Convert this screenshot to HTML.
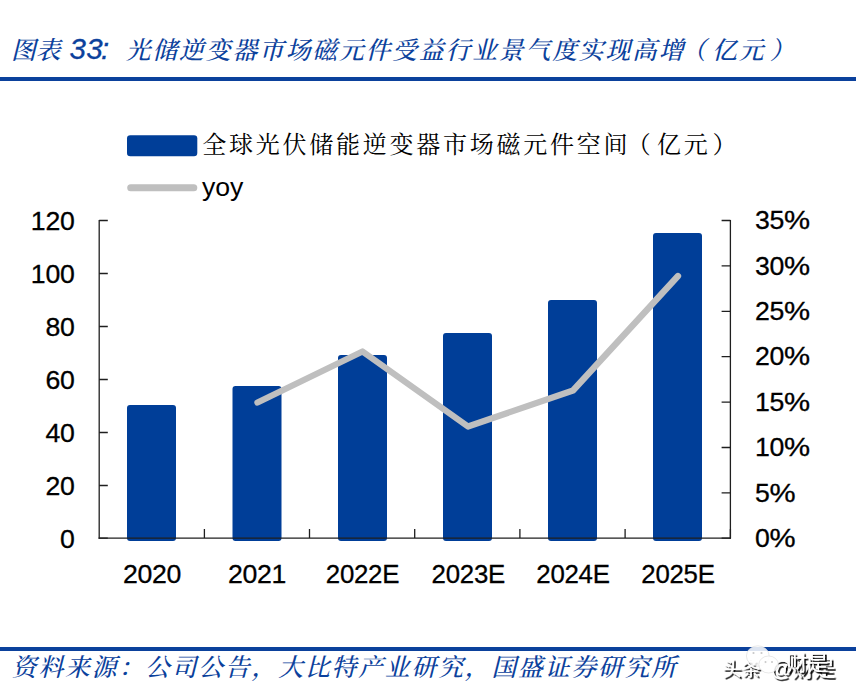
<!DOCTYPE html>
<html lang="zh-CN">
<head>
<meta charset="utf-8">
<title>图表 33</title>
<style>
html,body{margin:0;padding:0;background:#fff;}
body{width:856px;height:700px;overflow:hidden;position:relative;}
svg{position:absolute;left:0;top:0;display:block;}
.kai{font-family:"Liberation Serif","Noto Serif CJK SC",serif;font-size:24.8px;letter-spacing:1.85px;font-weight:500;}
.leg{font-size:24px;letter-spacing:2.75px;font-weight:400;}
.num{font-family:"Liberation Sans","Noto Sans CJK SC",sans-serif;font-size:26.67px;letter-spacing:-0.27px;}
.ttl{fill:#0b419c;font-style:italic;}
.wm{font-family:"Liberation Sans","Noto Sans CJK SC",sans-serif;font-weight:400;font-size:20px;}
</style>
</head>
<body>
<svg width="856" height="700" viewBox="0 0 856 700">
  <rect width="856" height="700" fill="#ffffff"/>
  <!-- title -->
  <text class="kai ttl" x="11" y="59.2" style="letter-spacing:0px">图表</text>
  <text class="num ttl" x="69.5" y="59.3" style="font-size:29.5px;letter-spacing:0.3px" stroke="#0b419c" stroke-width=".3">33<tspan dx="-2">:</tspan></text>
  <text class="kai ttl" x="125.8" y="59.2">光储逆变器市场磁元件受益行业景气度实现高增<tspan dx="-4.5">（</tspan><tspan dx="4.5">亿元</tspan><tspan dx="4.5">）</tspan></text>
  <rect x="0" y="77" width="856" height="4" fill="#0b419c"/>

  <!-- legend -->
  <rect x="127" y="135.3" width="70.3" height="21" rx="3.3" fill="#003e98"/>
  <text class="kai leg" x="202.3" y="153.3" fill="#000">全球光伏储能逆变器市场磁元件空间<tspan dx="-3.5">（</tspan><tspan dx="3.5">亿元</tspan><tspan dx="2">）</tspan></text>
  <line x1="130.7" y1="187.8" x2="193.8" y2="187.8" stroke="#bfbfbf" stroke-width="7" stroke-linecap="round"/>
  <text class="num" x="202" y="196.2" fill="#000" style="letter-spacing:-0.1px">yoy</text>

  <!-- bars -->
  <g fill="#003e98">
    <rect x="127" y="405" width="49" height="136" rx="3"/>
    <rect x="232.5" y="386" width="49" height="155" rx="3"/>
    <rect x="338" y="355" width="49" height="186" rx="3"/>
    <rect x="443" y="333" width="49" height="208" rx="3"/>
    <rect x="548" y="300" width="49" height="241" rx="3"/>
    <rect x="653" y="233" width="49" height="308" rx="3"/>
  </g>

  <!-- axes -->
  <g stroke="#1f1f1f" stroke-width="1.3" fill="none">
    <path d="M99.2 220V538.8"/>
    <path d="M99.2 220.5h8.6M99.2 273.5h8.6M99.2 326.5h8.6M99.2 379.5h8.6M99.2 432.5h8.6M99.2 485.5h8.6M99.2 538.2h8.6"/>
    <path d="M98.5 538.2H731"/>
    <path d="M204.4 538v-9M309.5 538v-9M414.7 538v-9M519.9 538v-9M625.1 538v-9M730.4 538v-9"/>
    <path d="M730.4 220V538.8"/>
    <path d="M730.4 220.5h-8.8M730.4 265.9h-8.8M730.4 311.3h-8.8M730.4 356.7h-8.8M730.4 402.1h-8.8M730.4 447.5h-8.8M730.4 492.9h-8.8M730.4 538.2h-8.8"/>
  </g>

  <!-- yoy line -->
  <polyline points="257.5,402.5 362.5,351.5 468,426.5 573,390.5 678,276" fill="none" stroke="#bfbfbf" stroke-width="6.3" stroke-linecap="round" stroke-linejoin="round"/>

  <!-- left labels -->
  <g class="num" fill="#000" stroke="#000" stroke-width=".3" text-anchor="end">
    <text x="74.5" y="229.8">120</text>
    <text x="74.5" y="282.8">100</text>
    <text x="74.5" y="335.8">80</text>
    <text x="74.5" y="388.8">60</text>
    <text x="74.5" y="441.8">40</text>
    <text x="74.5" y="494.8">20</text>
    <text x="74.5" y="547.8">0</text>
  </g>
  <!-- right labels -->
  <g class="num" fill="#000" stroke="#000" stroke-width=".3">
    <text x="755" y="229.1">35</text><text transform="translate(784.1 229.1) scale(1.1 1)">%</text>
    <text x="755" y="274.5">30</text><text transform="translate(784.1 274.5) scale(1.1 1)">%</text>
    <text x="755" y="319.9">25</text><text transform="translate(784.1 319.9) scale(1.1 1)">%</text>
    <text x="755" y="365.3">20</text><text transform="translate(784.1 365.3) scale(1.1 1)">%</text>
    <text x="755" y="410.7">15</text><text transform="translate(784.1 410.7) scale(1.1 1)">%</text>
    <text x="755" y="456.1">10</text><text transform="translate(784.1 456.1) scale(1.1 1)">%</text>
    <text x="755" y="501.5">5</text><text transform="translate(769.6 501.5) scale(1.1 1)">%</text>
    <text x="755" y="546.8">0</text><text transform="translate(769.6 546.8) scale(1.1 1)">%</text>
  </g>
  <!-- x labels -->
  <g class="num" fill="#000" stroke="#000" stroke-width=".3" text-anchor="middle">
    <text x="152" y="583">2020</text>
    <text x="257" y="583">2021</text>
    <text x="362.5" y="583" textLength="73.4" lengthAdjust="spacingAndGlyphs">2022E</text>
    <text x="468.3" y="583" textLength="73.4" lengthAdjust="spacingAndGlyphs">2023E</text>
    <text x="573" y="583" textLength="73.4" lengthAdjust="spacingAndGlyphs">2024E</text>
    <text x="678" y="583" textLength="73.4" lengthAdjust="spacingAndGlyphs">2025E</text>
  </g>

  <!-- footer -->
  <rect x="0" y="647" width="856" height="4" fill="#0b419c"/>
  <text class="kai ttl" x="11.8" y="676">资料来源：公司公告，大比特产业研究，国盛证券研究所</text>

  <!-- watermark -->
  <defs>
    <filter id="sh" x="-10%" y="-20%" width="120%" height="150%">
      <feDropShadow dx="1.7" dy="1.7" stdDeviation="0.45" flood-color="#000" flood-opacity="1"/>
    </filter>
  </defs>
  <g>
    <text class="wm" x="722.5" y="675.5" fill="#fff" filter="url(#sh)" style="font-size:19px">头条</text>
    <text class="wm" x="770.5" y="676" fill="#fff" filter="url(#sh)" style="font-size:21.5px">@财是</text>
    <g fill="#fff" fill-opacity=".86" stroke="#d9d9d9" stroke-width=".6">
      <ellipse cx="757.8" cy="656" rx="11.4" ry="10.2"/>
      <ellipse cx="768.6" cy="664.5" rx="9.8" ry="8.5"/>
    </g>
    <g fill="#c9c9c9">
      <circle cx="753.5" cy="653" r="1.1"/><circle cx="761.5" cy="653" r="1.1"/>
      <circle cx="765.5" cy="662" r="1"/><circle cx="772" cy="662" r="1"/>
    </g>
    <text class="wm" x="786.5" y="670" fill="#fff" filter="url(#sh)" style="font-size:21px">财是</text>
  </g>
</svg>
</body>
</html>
